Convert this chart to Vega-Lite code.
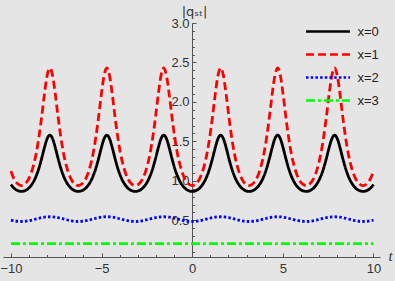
{
"$schema": "https://vega.github.io/schema/vega-lite/v6.json",
"width": 377, "height": 234,
"autosize": "none",
"padding": {"left": 3, "top": 23, "right": 15, "bottom": 24},
"background": "#e5e5e5",
"config": {
  "view": {"stroke": null},
  "axis": {"grid": false, "labelFont": "Liberation Sans", "labelFontSize": 13, "labelColor": "#333333", "domainColor": "#555555", "tickColor": "#555555", "domainWidth": 1, "tickWidth": 1, "labelFlush": false, "labelOverlap": false, "labelBound": false},
  "legend": {"orient": "none", "legendX": 303, "legendY": 2, "title": null, "symbolType": "M-4.4,0H4.4", "symbolSize": 100, "symbolStrokeWidth": 2.5, "symbolOffset": 15.5, "labelOffset": 23, "labelFont": "Liberation Sans", "labelFontSize": 13, "labelColor": "#222222", "rowPadding": 9, "padding": 0, "offset": 0}
},
"data": {"values": [
{"t":-10,"x=0":0.954,"x=1":1.123,"x=2":0.503,"x=3":0.205},
{"t":-9.946,"x=0":0.937,"x=1":1.087,"x=2":0.500,"x=3":0.205},
{"t":-9.796,"x=0":0.900,"x=1":1.011,"x=2":0.493,"x=3":0.205},
{"t":-9.646,"x=0":0.878,"x=1":0.965,"x=2":0.488,"x=3":0.205},
{"t":-9.425,"x=0":0.866,"x=1":0.940,"x=2":0.485,"x=3":0.205},
{"t":-9.204,"x=0":0.878,"x=1":0.965,"x=2":0.488,"x=3":0.205},
{"t":-9.054,"x=0":0.900,"x=1":1.011,"x=2":0.493,"x=3":0.205},
{"t":-8.904,"x=0":0.937,"x=1":1.087,"x=2":0.500,"x=3":0.205},
{"t":-8.754,"x=0":0.990,"x=1":1.199,"x=2":0.508,"x=3":0.205},
{"t":-8.604,"x=0":1.064,"x=1":1.353,"x=2":0.517,"x=3":0.205},
{"t":-8.454,"x=0":1.163,"x=1":1.560,"x=2":0.526,"x=3":0.205},
{"t":-8.304,"x=0":1.286,"x=1":1.816,"x=2":0.534,"x=3":0.205},
{"t":-8.154,"x=0":1.421,"x=1":2.098,"x=2":0.540,"x=3":0.205},
{"t":-8.004,"x=0":1.534,"x=1":2.334,"x=2":0.544,"x=3":0.205},
{"t":-7.854,"x=0":1.580,"x=1":2.430,"x=2":0.545,"x=3":0.205},
{"t":-7.704,"x=0":1.534,"x=1":2.334,"x=2":0.544,"x=3":0.205},
{"t":-7.554,"x=0":1.421,"x=1":2.098,"x=2":0.540,"x=3":0.205},
{"t":-7.404,"x=0":1.286,"x=1":1.816,"x=2":0.534,"x=3":0.205},
{"t":-7.254,"x=0":1.163,"x=1":1.560,"x=2":0.526,"x=3":0.205},
{"t":-7.104,"x=0":1.064,"x=1":1.353,"x=2":0.517,"x=3":0.205},
{"t":-6.954,"x=0":0.990,"x=1":1.199,"x=2":0.508,"x=3":0.205},
{"t":-6.804,"x=0":0.937,"x=1":1.087,"x=2":0.500,"x=3":0.205},
{"t":-6.654,"x=0":0.900,"x=1":1.011,"x=2":0.493,"x=3":0.205},
{"t":-6.504,"x=0":0.878,"x=1":0.965,"x=2":0.488,"x=3":0.205},
{"t":-6.283,"x=0":0.866,"x=1":0.940,"x=2":0.485,"x=3":0.205},
{"t":-6.062,"x=0":0.878,"x=1":0.965,"x=2":0.488,"x=3":0.205},
{"t":-5.912,"x=0":0.900,"x=1":1.011,"x=2":0.493,"x=3":0.205},
{"t":-5.762,"x=0":0.937,"x=1":1.087,"x=2":0.500,"x=3":0.205},
{"t":-5.612,"x=0":0.990,"x=1":1.199,"x=2":0.508,"x=3":0.205},
{"t":-5.462,"x=0":1.064,"x=1":1.353,"x=2":0.517,"x=3":0.205},
{"t":-5.312,"x=0":1.163,"x=1":1.560,"x=2":0.526,"x=3":0.205},
{"t":-5.162,"x=0":1.286,"x=1":1.816,"x=2":0.534,"x=3":0.205},
{"t":-5.012,"x=0":1.421,"x=1":2.098,"x=2":0.540,"x=3":0.205},
{"t":-4.862,"x=0":1.534,"x=1":2.334,"x=2":0.544,"x=3":0.205},
{"t":-4.712,"x=0":1.580,"x=1":2.430,"x=2":0.545,"x=3":0.205},
{"t":-4.562,"x=0":1.534,"x=1":2.334,"x=2":0.544,"x=3":0.205},
{"t":-4.412,"x=0":1.421,"x=1":2.098,"x=2":0.540,"x=3":0.205},
{"t":-4.262,"x=0":1.286,"x=1":1.816,"x=2":0.534,"x=3":0.205},
{"t":-4.112,"x=0":1.163,"x=1":1.560,"x=2":0.526,"x=3":0.205},
{"t":-3.962,"x=0":1.064,"x=1":1.353,"x=2":0.517,"x=3":0.205},
{"t":-3.812,"x=0":0.990,"x=1":1.199,"x=2":0.508,"x=3":0.205},
{"t":-3.662,"x=0":0.937,"x=1":1.087,"x=2":0.500,"x=3":0.205},
{"t":-3.512,"x=0":0.900,"x=1":1.011,"x=2":0.493,"x=3":0.205},
{"t":-3.362,"x=0":0.878,"x=1":0.965,"x=2":0.488,"x=3":0.205},
{"t":-3.142,"x=0":0.866,"x=1":0.940,"x=2":0.485,"x=3":0.205},
{"t":-2.921,"x=0":0.878,"x=1":0.965,"x=2":0.488,"x=3":0.205},
{"t":-2.771,"x=0":0.900,"x=1":1.011,"x=2":0.493,"x=3":0.205},
{"t":-2.621,"x=0":0.937,"x=1":1.087,"x=2":0.500,"x=3":0.205},
{"t":-2.471,"x=0":0.990,"x=1":1.199,"x=2":0.508,"x=3":0.205},
{"t":-2.321,"x=0":1.064,"x=1":1.353,"x=2":0.517,"x=3":0.205},
{"t":-2.171,"x=0":1.163,"x=1":1.560,"x=2":0.526,"x=3":0.205},
{"t":-2.021,"x=0":1.286,"x=1":1.816,"x=2":0.534,"x=3":0.205},
{"t":-1.871,"x=0":1.421,"x=1":2.098,"x=2":0.540,"x=3":0.205},
{"t":-1.721,"x=0":1.534,"x=1":2.334,"x=2":0.544,"x=3":0.205},
{"t":-1.571,"x=0":1.580,"x=1":2.430,"x=2":0.545,"x=3":0.205},
{"t":-1.421,"x=0":1.534,"x=1":2.334,"x=2":0.544,"x=3":0.205},
{"t":-1.271,"x=0":1.421,"x=1":2.098,"x=2":0.540,"x=3":0.205},
{"t":-1.121,"x=0":1.286,"x=1":1.816,"x=2":0.534,"x=3":0.205},
{"t":-0.971,"x=0":1.163,"x=1":1.560,"x=2":0.526,"x=3":0.205},
{"t":-0.821,"x=0":1.064,"x=1":1.353,"x=2":0.517,"x=3":0.205},
{"t":-0.671,"x=0":0.990,"x=1":1.199,"x=2":0.508,"x=3":0.205},
{"t":-0.521,"x=0":0.937,"x=1":1.087,"x=2":0.500,"x=3":0.205},
{"t":-0.371,"x=0":0.900,"x=1":1.011,"x=2":0.493,"x=3":0.205},
{"t":-0.221,"x=0":0.878,"x=1":0.965,"x=2":0.488,"x=3":0.205},
{"t":0,"x=0":0.866,"x=1":0.940,"x=2":0.485,"x=3":0.205},
{"t":0.221,"x=0":0.878,"x=1":0.965,"x=2":0.488,"x=3":0.205},
{"t":0.371,"x=0":0.900,"x=1":1.011,"x=2":0.493,"x=3":0.205},
{"t":0.521,"x=0":0.937,"x=1":1.087,"x=2":0.500,"x=3":0.205},
{"t":0.671,"x=0":0.990,"x=1":1.199,"x=2":0.508,"x=3":0.205},
{"t":0.821,"x=0":1.064,"x=1":1.353,"x=2":0.517,"x=3":0.205},
{"t":0.971,"x=0":1.163,"x=1":1.560,"x=2":0.526,"x=3":0.205},
{"t":1.121,"x=0":1.286,"x=1":1.816,"x=2":0.534,"x=3":0.205},
{"t":1.271,"x=0":1.421,"x=1":2.098,"x=2":0.540,"x=3":0.205},
{"t":1.421,"x=0":1.534,"x=1":2.334,"x=2":0.544,"x=3":0.205},
{"t":1.571,"x=0":1.580,"x=1":2.430,"x=2":0.545,"x=3":0.205},
{"t":1.721,"x=0":1.534,"x=1":2.334,"x=2":0.544,"x=3":0.205},
{"t":1.871,"x=0":1.421,"x=1":2.098,"x=2":0.540,"x=3":0.205},
{"t":2.021,"x=0":1.286,"x=1":1.816,"x=2":0.534,"x=3":0.205},
{"t":2.171,"x=0":1.163,"x=1":1.560,"x=2":0.526,"x=3":0.205},
{"t":2.321,"x=0":1.064,"x=1":1.353,"x=2":0.517,"x=3":0.205},
{"t":2.471,"x=0":0.990,"x=1":1.199,"x=2":0.508,"x=3":0.205},
{"t":2.621,"x=0":0.937,"x=1":1.087,"x=2":0.500,"x=3":0.205},
{"t":2.771,"x=0":0.900,"x=1":1.011,"x=2":0.493,"x=3":0.205},
{"t":2.921,"x=0":0.878,"x=1":0.965,"x=2":0.488,"x=3":0.205},
{"t":3.142,"x=0":0.866,"x=1":0.940,"x=2":0.485,"x=3":0.205},
{"t":3.362,"x=0":0.878,"x=1":0.965,"x=2":0.488,"x=3":0.205},
{"t":3.512,"x=0":0.900,"x=1":1.011,"x=2":0.493,"x=3":0.205},
{"t":3.662,"x=0":0.937,"x=1":1.087,"x=2":0.500,"x=3":0.205},
{"t":3.812,"x=0":0.990,"x=1":1.199,"x=2":0.508,"x=3":0.205},
{"t":3.962,"x=0":1.064,"x=1":1.353,"x=2":0.517,"x=3":0.205},
{"t":4.112,"x=0":1.163,"x=1":1.560,"x=2":0.526,"x=3":0.205},
{"t":4.262,"x=0":1.286,"x=1":1.816,"x=2":0.534,"x=3":0.205},
{"t":4.412,"x=0":1.421,"x=1":2.098,"x=2":0.540,"x=3":0.205},
{"t":4.562,"x=0":1.534,"x=1":2.334,"x=2":0.544,"x=3":0.205},
{"t":4.712,"x=0":1.580,"x=1":2.430,"x=2":0.545,"x=3":0.205},
{"t":4.862,"x=0":1.534,"x=1":2.334,"x=2":0.544,"x=3":0.205},
{"t":5.012,"x=0":1.421,"x=1":2.098,"x=2":0.540,"x=3":0.205},
{"t":5.162,"x=0":1.286,"x=1":1.816,"x=2":0.534,"x=3":0.205},
{"t":5.312,"x=0":1.163,"x=1":1.560,"x=2":0.526,"x=3":0.205},
{"t":5.462,"x=0":1.064,"x=1":1.353,"x=2":0.517,"x=3":0.205},
{"t":5.612,"x=0":0.990,"x=1":1.199,"x=2":0.508,"x=3":0.205},
{"t":5.762,"x=0":0.937,"x=1":1.087,"x=2":0.500,"x=3":0.205},
{"t":5.912,"x=0":0.900,"x=1":1.011,"x=2":0.493,"x=3":0.205},
{"t":6.062,"x=0":0.878,"x=1":0.965,"x=2":0.488,"x=3":0.205},
{"t":6.283,"x=0":0.866,"x=1":0.940,"x=2":0.485,"x=3":0.205},
{"t":6.504,"x=0":0.878,"x=1":0.965,"x=2":0.488,"x=3":0.205},
{"t":6.654,"x=0":0.900,"x=1":1.011,"x=2":0.493,"x=3":0.205},
{"t":6.804,"x=0":0.937,"x=1":1.087,"x=2":0.500,"x=3":0.205},
{"t":6.954,"x=0":0.990,"x=1":1.199,"x=2":0.508,"x=3":0.205},
{"t":7.104,"x=0":1.064,"x=1":1.353,"x=2":0.517,"x=3":0.205},
{"t":7.254,"x=0":1.163,"x=1":1.560,"x=2":0.526,"x=3":0.205},
{"t":7.404,"x=0":1.286,"x=1":1.816,"x=2":0.534,"x=3":0.205},
{"t":7.554,"x=0":1.421,"x=1":2.098,"x=2":0.540,"x=3":0.205},
{"t":7.704,"x=0":1.534,"x=1":2.334,"x=2":0.544,"x=3":0.205},
{"t":7.854,"x=0":1.580,"x=1":2.430,"x=2":0.545,"x=3":0.205},
{"t":8.004,"x=0":1.534,"x=1":2.334,"x=2":0.544,"x=3":0.205},
{"t":8.154,"x=0":1.421,"x=1":2.098,"x=2":0.540,"x=3":0.205},
{"t":8.304,"x=0":1.286,"x=1":1.816,"x=2":0.534,"x=3":0.205},
{"t":8.454,"x=0":1.163,"x=1":1.560,"x=2":0.526,"x=3":0.205},
{"t":8.604,"x=0":1.064,"x=1":1.353,"x=2":0.517,"x=3":0.205},
{"t":8.754,"x=0":0.990,"x=1":1.199,"x=2":0.508,"x=3":0.205},
{"t":8.904,"x=0":0.937,"x=1":1.087,"x=2":0.500,"x=3":0.205},
{"t":9.054,"x=0":0.900,"x=1":1.011,"x=2":0.493,"x=3":0.205},
{"t":9.204,"x=0":0.878,"x=1":0.965,"x=2":0.488,"x=3":0.205},
{"t":9.425,"x=0":0.866,"x=1":0.940,"x=2":0.485,"x=3":0.205},
{"t":9.646,"x=0":0.878,"x=1":0.965,"x=2":0.488,"x=3":0.205},
{"t":9.796,"x=0":0.900,"x=1":1.011,"x=2":0.493,"x=3":0.205},
{"t":9.946,"x=0":0.937,"x=1":1.087,"x=2":0.500,"x=3":0.205},
{"t":10,"x=0":0.954,"x=1":1.123,"x=2":0.503,"x=3":0.205}
]},
"transform": [{"fold": ["x=0", "x=1", "x=2", "x=3"], "as": ["series", "value"]}],
"layer": [
  {
    "mark": {"type": "line", "strokeWidth": 2.8, "clip": true, "interpolate": "monotone"},
    "encoding": {
      "x": {"field": "t", "type": "quantitative", "scale": {"domain": [-10.44, 10.36], "nice": false, "zero": false},
        "axis": {"orient": "bottom", "values": [-10, -5, 0, 5, 10], "tickSize": -4, "labelPadding": 9, "title": "t", "titleFont": "Liberation Serif", "titleFontStyle": "italic", "titleFontWeight": "normal", "titleFontSize": 15, "titleColor": "#333333", "titleX": 387, "titleY": -1.5, "titleAlign": "center", "titleBaseline": "middle"}},
      "y": {"field": "value", "type": "quantitative", "scale": {"domain": [0.035, 3.0], "nice": false, "zero": false},
        "axis": {"orient": "left", "offset": -189, "values": [0.5, 1, 1.5, 2, 2.5, 3], "format": ".1f", "tickSize": -4, "labelPadding": 7, "title": "|qₛₜ|", "titleAngle": 0, "titleX": 2, "titleY": -12, "titleAlign": "center", "titleBaseline": "middle", "titleFont": "DejaVu Sans", "titleFontWeight": "normal", "titleFontSize": 13, "titleColor": "#333333"}},
      "color": {"field": "series", "type": "nominal", "scale": {"domain": ["x=0", "x=1", "x=2", "x=3"], "range": ["#000000", "#ff0000", "#0000ff", "#00ff00"]}},
      "strokeDash": {"field": "series", "type": "nominal", "scale": {"domain": ["x=0", "x=1", "x=2", "x=3"], "range": [[1, 0], [8, 4], [2.5, 2.2], [9, 3, 3, 3]]}}
    }
  },
  {
    "mark": {"type": "line", "opacity": 0},
    "encoding": {
      "x": {"field": "t", "type": "quantitative",
        "axis": {"orient": "bottom", "values": [-10, -9, -8, -7, -6, -5, -4, -3, -2, -1, 0, 1, 2, 3, 4, 5, 6, 7, 8, 9, 10], "tickSize": -2.5, "labels": false, "domain": false, "title": null}},
      "y": {"field": "value", "type": "quantitative",
        "axis": {"orient": "left", "offset": -189, "values": [0.1, 0.2, 0.3, 0.4, 0.5, 0.6, 0.7, 0.8, 0.9, 1.0, 1.1, 1.2, 1.3, 1.4, 1.5, 1.6, 1.7, 1.8, 1.9, 2.0, 2.1, 2.2, 2.3, 2.4, 2.5, 2.6, 2.7, 2.8, 2.9, 3.0], "tickSize": -2.5, "labels": false, "domain": false, "title": null}}
    }
  }
],
"resolve": {"axis": {"x": "independent", "y": "independent"}}
}
